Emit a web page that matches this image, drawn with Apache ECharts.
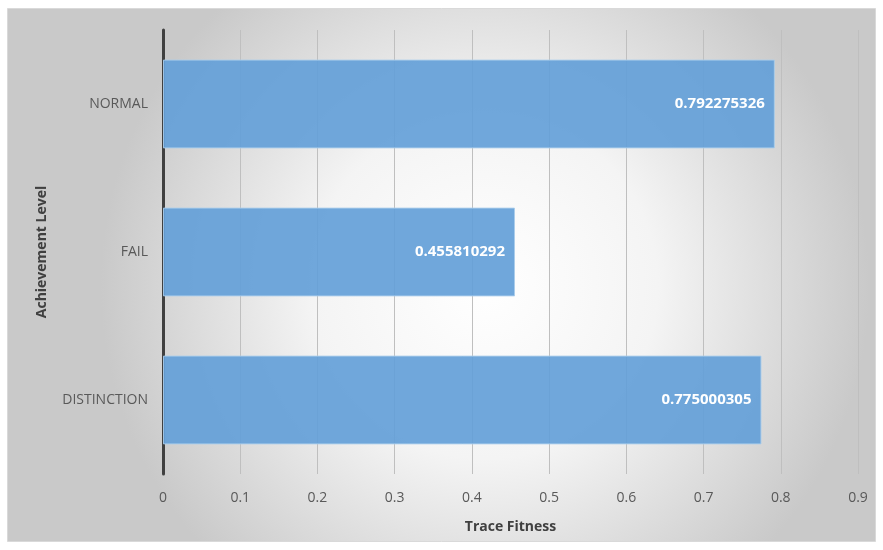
<!DOCTYPE html>
<html>
<head>
<meta charset="utf-8">
<style>
  html, body { margin: 0; padding: 0; background: #ffffff; }
  #chart { width: 883px; height: 550px; }
</style>
<script src="https://cdn.jsdelivr.net/npm/echarts@6/dist/echarts.min.js"></script>
</head>
<body>
<div id="chart"></div>
<script>
// Achievement levels (bottom to top) and their mean trace fitness
const categories = ['DISTINCTION', 'FAIL', 'NORMAL'];
const fitness = [0.775000305, 0.455810292, 0.792275326];
const xTicks = [0, 0.1, 0.2, 0.3, 0.4, 0.5, 0.6, 0.7, 0.8, 0.9];

const chart = echarts.init(document.getElementById('chart'), null, { renderer: 'canvas' });
const font = '"Open Sans", "Liberation Sans", sans-serif';

chart.setOption({
  animation: false,
  graphic: [{
    type: 'rect',
    z: -10,
    silent: true,
    shape: { x: 7.5, y: 8.5, width: 868, height: 533 },
    style: {
      fill: new echarts.graphic.RadialGradient(0.55, 0.52, 0.72, [
        { offset: 0, color: '#ffffff' },
        { offset: 0.45, color: '#f4f4f4' },
        { offset: 1, color: '#c9c9c9' }
      ]),
      stroke: '#d9d9d9',
      lineWidth: 1
    }
  }],
  grid: { left: 163, right: 25, top: 30, bottom: 76, containLabel: false },
  xAxis: {
    type: 'value',
    min: 0,
    max: 0.9,
    interval: 0.1,
    name: 'Trace Fitness',
    nameLocation: 'middle',
    nameGap: 46,
    nameTextStyle: { fontFamily: font, fontSize: 14, fontWeight: 'bold', color: '#404040' },
    axisLine: { show: false },
    axisTick: { show: false },
    axisLabel: {
      fontFamily: font, fontSize: 14, color: '#595959', margin: 17,
      formatter: v => {
        const t = xTicks.find(x => Math.abs(x - v) < 1e-9);
        return t === undefined ? '' : String(t);
      }
    },
    splitLine: { show: true, lineStyle: { color: '#bfbfbf', width: 1 } }
  },
  yAxis: {
    type: 'category',
    data: categories,
    name: 'Achievement Level',
    nameLocation: 'middle',
    nameGap: 114,
    nameRotate: 90,
    nameTextStyle: { fontFamily: font, fontSize: 14, fontWeight: 'bold', color: '#404040' },
    axisLine: { show: true, lineStyle: { color: '#404040', width: 3 } },
    axisTick: { show: false },
    axisLabel: { fontFamily: font, fontSize: 14, color: '#595959', margin: 15 },
    splitLine: { show: false }
  },
  series: [{
    type: 'bar',
    data: fitness,
    barCategoryGap: '40%',
    itemStyle: {
      color: 'rgba(100, 160, 216, 0.92)',
      borderColor: 'rgba(170, 205, 235, 0.9)',
      borderWidth: 1
    },
    label: {
      show: true,
      position: 'insideRight',
      distance: 10,
      color: '#ffffff',
      fontFamily: font,
      fontSize: 15,
      fontWeight: 'bold',
      formatter: p => String(p.value)
    }
  }]
});
</script>
</body>
</html>
